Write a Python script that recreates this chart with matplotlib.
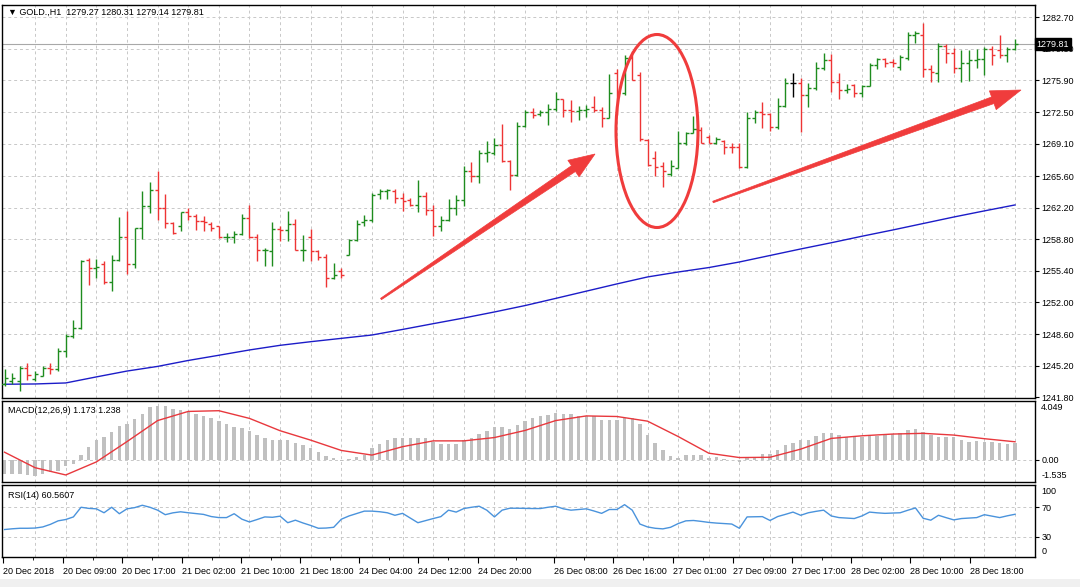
import numpy as np
import matplotlib
matplotlib.use("Agg")
import matplotlib.pyplot as plt
from matplotlib.patches import Polygon, Ellipse, Rectangle
from matplotlib.transforms import IdentityTransform, blended_transform_factory

plt.rcParams['font.family'] = ['Liberation Sans', 'DejaVu Sans']
plt.rcParams['font.size'] = 6.5

# GOLD., H1 bars (20-28 Dec 2018)
opens = [1243.2, 1243.6, 1243.5, 1245.0, 1243.8, 1244.1, 1245.0, 1244.8, 1246.8, 1248.4,
         1249.3, 1256.6, 1255.7, 1256.1, 1254.2, 1256.6, 1259.1, 1256.1, 1260.0, 1262.4,
         1264.1, 1262.2, 1260.6, 1260.2, 1261.7, 1261.3, 1260.8, 1260.4, 1260.2, 1259.0,
         1259.1, 1259.4, 1261.1, 1259.0, 1257.6, 1257.5, 1259.9, 1259.75, 1260.5, 1257.6,
         1259.0, 1257.5, 1256.9, 1254.6, 1255.4, 1257.1, 1258.7, 1260.64, 1260.86, 1263.7,
         1263.98, 1264.0, 1263.26, 1263.01, 1262.54, 1263.51, 1262.0, 1260.21, 1260.86, 1262.18,
         1263.08, 1266.13, 1265.66, 1268.1, 1268.1, 1269.0, 1267.21, 1265.77, 1270.97, 1272.48,
         1272.34, 1272.48, 1272.84, 1273.85, 1272.77, 1272.59, 1272.77, 1273.06, 1272.77, 1271.87,
         1276.7, 1274.56, 1278.3, 1276.5, 1269.54, 1267.5, 1266.74, 1265.8, 1266.49, 1269.18,
         1270.26, 1270.6, 1269.86, 1269.21, 1269.43, 1268.78, 1268.78, 1266.56, 1271.83, 1272.55,
         1272.3, 1270.86, 1273.16, 1275.67, 1275.67, 1274.34, 1275.06, 1277.21, 1278.11, 1275.78,
         1274.88, 1275.42, 1274.52, 1275.31, 1277.57, 1278.18, 1277.93, 1277.39, 1278.29, 1280.8,
         1280.8, 1277.1, 1276.67, 1279.62, 1278.83, 1277.21, 1277.82, 1278.11, 1278.18, 1279.26,
         1279.18, 1278.65, 1279.27]
highs = [1244.8, 1244.4, 1245.15, 1245.5, 1244.6, 1245.15, 1245.5, 1247.1, 1248.6, 1250.1,
         1256.6, 1256.8, 1256.7, 1256.45, 1257.1, 1261.2, 1261.8, 1260.0, 1264.0, 1265.0,
         1266.2, 1263.7, 1260.7, 1261.7, 1262.2, 1261.5, 1261.3, 1260.7, 1260.2, 1259.5,
         1259.7, 1261.5, 1262.5, 1259.4, 1257.9, 1260.65, 1260.2, 1261.8, 1261.0, 1259.3,
         1259.9, 1257.7, 1257.2, 1256.3, 1255.7, 1258.8, 1260.9, 1261.47, 1263.8, 1264.23,
         1264.23, 1264.23, 1263.8, 1263.26, 1265.23, 1263.91, 1262.54, 1261.29, 1263.15, 1263.62,
         1266.74, 1267.14, 1268.46, 1269.43, 1269.72, 1271.23, 1267.32, 1271.44, 1272.77, 1272.95,
         1272.77, 1273.41, 1274.63, 1273.92, 1273.77, 1273.13, 1273.31, 1274.2, 1273.06, 1276.54,
         1277.15, 1278.69, 1279.05, 1276.8, 1269.6, 1268.28, 1267.1, 1267.32, 1270.44, 1270.33,
         1272.12, 1270.93, 1270.03, 1269.86, 1269.5, 1269.14, 1269.21, 1272.55, 1272.73, 1273.62,
         1272.44, 1273.98, 1276.13, 1276.67, 1276.13, 1275.6, 1277.93, 1278.83, 1278.75, 1276.67,
         1275.52, 1275.52, 1275.42, 1277.75, 1278.29, 1278.29, 1278.18, 1278.65, 1281.16, 1281.27,
         1282.13, 1277.57, 1279.9, 1279.83, 1279.36, 1279.18, 1279.18, 1279.26, 1279.47, 1279.62,
         1280.8, 1279.47, 1280.31]
lows = [1243.0, 1243.2, 1242.5, 1243.7, 1243.6, 1244.05, 1244.3, 1244.6, 1246.1, 1248.2,
        1249.1, 1253.9, 1254.6, 1254.0, 1253.2, 1256.45, 1255.1, 1255.7, 1258.8, 1261.65,
        1260.9, 1260.0, 1259.4, 1259.7, 1260.9, 1259.75, 1259.7, 1259.7, 1258.95, 1258.5,
        1258.4, 1259.3, 1258.9, 1256.5, 1255.9, 1255.9, 1258.6, 1258.6, 1257.7, 1256.5,
        1256.5, 1256.6, 1253.65, 1254.5, 1254.65, 1257.1, 1258.6, 1260.21, 1260.64, 1263.15,
        1263.15, 1262.72, 1261.83, 1262.36, 1261.72, 1261.47, 1259.21, 1259.67, 1260.75, 1261.47,
        1262.36, 1264.95, 1264.88, 1267.1, 1267.92, 1267.1, 1264.16, 1265.59, 1270.87, 1271.87,
        1272.12, 1271.15, 1272.59, 1271.98, 1271.4, 1271.69, 1271.98, 1272.48, 1270.9, 1271.87,
        1272.23, 1274.28, 1276.0, 1269.4, 1266.74, 1265.59, 1264.45, 1265.59, 1266.49, 1269.0,
        1270.26, 1269.14, 1269.14, 1269.07, 1267.99, 1268.06, 1266.45, 1266.45, 1271.29, 1270.75,
        1270.5, 1270.64, 1273.08, 1274.09, 1270.39, 1273.08, 1274.88, 1277.03, 1274.7, 1273.87,
        1274.52, 1274.09, 1274.09, 1275.31, 1277.1, 1277.39, 1277.39, 1277.03, 1278.11, 1279.97,
        1276.31, 1275.78, 1275.78, 1277.75, 1276.67, 1275.78, 1275.88, 1277.21, 1276.49, 1277.57,
        1278.29, 1277.93, 1279.14]
closes = [1243.9, 1243.9, 1245.0, 1244.2, 1244.3, 1245.0, 1244.8, 1246.8, 1248.4, 1249.3,
          1256.5, 1255.7, 1255.8, 1254.2, 1256.6, 1259.1, 1256.1, 1260.0, 1262.4, 1264.1,
          1262.2, 1260.6, 1259.5, 1261.7, 1261.3, 1260.8, 1260.7, 1260.0, 1259.0, 1259.1,
          1259.4, 1261.1, 1259.0, 1257.6, 1257.7, 1259.9, 1259.75, 1260.5, 1257.7, 1257.7,
          1257.5, 1256.9, 1254.6, 1255.0, 1255.0, 1258.7, 1260.4, 1260.86, 1263.62, 1263.98,
          1264.09, 1263.26, 1262.9, 1262.54, 1263.51, 1262.0, 1260.21, 1260.86, 1262.18, 1263.08,
          1266.13, 1265.66, 1268.1, 1268.15, 1269.0, 1267.21, 1265.77, 1270.97, 1272.48, 1272.23,
          1272.48, 1272.84, 1273.85, 1272.77, 1272.59, 1272.77, 1272.84, 1272.77, 1271.87, 1274.56,
          1274.56, 1278.3, 1276.0, 1269.6, 1266.8, 1266.6, 1266.2, 1266.74, 1269.18, 1270.26,
          1270.62, 1269.21, 1269.21, 1269.57, 1268.78, 1268.7, 1266.56, 1271.83, 1272.55, 1272.3,
          1270.86, 1273.16, 1275.67, 1275.67, 1274.34, 1275.06, 1277.21, 1278.11, 1275.78, 1274.88,
          1274.95, 1274.52, 1275.31, 1277.57, 1278.18, 1277.82, 1277.75, 1278.47, 1280.8, 1280.98,
          1277.1, 1276.85, 1279.62, 1278.83, 1277.21, 1277.82, 1278.11, 1278.18, 1279.26, 1278.65,
          1278.65, 1279.26, 1279.81]

# moving average, read every 4th bar
ma_every4 = [1243.20, 1243.23, 1243.34, 1243.99, 1244.62, 1245.12, 1245.76, 1246.32, 1246.89,
             1247.39, 1247.78, 1248.14, 1248.50, 1249.10, 1249.72, 1250.33, 1250.98, 1251.67,
             1252.44, 1253.22, 1254.00, 1254.75, 1255.28, 1255.76, 1256.36, 1257.06, 1257.76,
             1258.43, 1259.13, 1259.80, 1260.50, 1261.20, 1261.86, 1262.50]

# MACD(12,26,9) main (histogram) per bar, signal every 4th bar
macd_main = [-1.0, -1.0, -1.0, -1.05, -1.1, -0.95, -0.85, -0.8, -0.45, -0.3,
             0.35, 0.89, 1.36, 1.6, 1.91, 2.30, 2.43, 2.78, 3.13, 3.65,
             3.7, 3.7, 3.5, 3.41, 3.35, 3.13, 3.0, 2.85, 2.66, 2.47,
             2.26, 2.2, 2.0, 1.73, 1.5, 1.38, 1.38, 1.38, 1.14, 1.03,
             0.84, 0.56, 0.25, 0.13, -0.12, 0.07, 0.19, 0.35, 0.82, 1.06,
             1.37, 1.48, 1.48, 1.48, 1.53, 1.48, 1.25, 1.06, 1.06, 1.06,
             1.37, 1.48, 1.77, 1.96, 2.26, 2.26, 2.14, 2.38, 2.66, 2.85,
             3.02, 3.06, 3.25, 3.18, 3.13, 3.02, 3.02, 3.02, 2.71, 2.71,
             2.71, 2.90, 2.85, 2.43, 1.72, 1.13, 0.66, 0.26, 0.12, 0.31,
             0.31, 0.31, 0.12, 0.19, 0.07, -0.05, -0.16, 0.12, 0.19, 0.42,
             0.42, 0.66, 1.01, 1.13, 1.37, 1.37, 1.67, 1.84, 1.84, 1.72,
             1.60, 1.60, 1.60, 1.67, 1.67, 1.77, 1.77, 1.84, 2.07, 2.14,
             1.91, 1.72, 1.60, 1.60, 1.60, 1.37, 1.25, 1.30, 1.25, 1.20,
             1.13, 1.06, 1.173]
macd_signal_every4 = [0.52, -0.55, -1.05, -0.15, 1.25, 2.70, 3.33, 3.38, 2.85, 2.0,
                      1.35, 0.64, 0.32, 0.90, 1.30, 1.30, 1.53, 2.02, 2.70, 3.02,
                      2.98, 2.66, 1.60, 0.45, 0.15, 0.17, 0.73, 1.47, 1.65, 1.77,
                      1.82, 1.70, 1.45, 1.238]

# RSI(14) per bar
rsi = [40.0, 41.0, 41.7, 41.7, 42.0, 43.5, 47.0, 51.7, 53.5, 57.0,
       70.0, 68.5, 67.9, 62.6, 70.0, 61.3, 67.9, 69.5, 72.7, 70.0,
       66.1, 60.0, 62.5, 63.9, 62.6, 61.5, 60.4, 57.5, 56.1, 56.1,
       61.3, 54.0, 50.2, 53.5, 57.0, 56.5, 58.0, 49.2, 52.6, 48.8,
       45.5, 41.7, 42.0, 43.0, 53.9, 58.3, 61.5, 64.8, 64.8, 64.0,
       62.6, 59.2, 61.8, 55.5, 49.2, 52.0, 54.8, 57.4, 66.1, 63.5,
       68.3, 70.0, 71.4, 66.1, 57.0, 66.1, 68.7, 68.7, 68.5, 68.3,
       68.3, 70.0, 71.4, 67.9, 66.1, 67.0, 67.9, 65.0, 61.8, 67.0,
       67.0, 73.5, 66.1, 47.4, 43.5, 41.7, 40.9, 43.0, 48.0, 51.7,
       52.2, 51.0, 49.6, 48.7, 48.0, 47.4, 41.7, 57.0, 57.2, 57.4,
       52.2, 57.5, 60.4, 63.5, 59.2, 62.6, 64.5, 66.1, 58.3, 56.1,
       55.5, 54.8, 58.3, 63.5, 62.5, 61.8, 62.2, 62.6, 66.0, 69.1,
       55.2, 52.6, 59.2, 56.0, 53.0, 54.8, 55.5, 56.1, 60.0, 58.0,
       56.1, 58.5, 60.56]

price_labels = ['1241.80', '1245.20', '1248.60', '1252.00', '1255.40', '1258.80', '1262.20',
                '1265.60', '1269.10', '1272.50', '1275.90', '1279.30', '1282.70']
time_labels = ['20 Dec 2018', '20 Dec 09:00', '20 Dec 17:00', '21 Dec 02:00', '21 Dec 10:00',
               '21 Dec 18:00', '24 Dec 04:00', '24 Dec 12:00', '24 Dec 20:00', '26 Dec 08:00',
               '26 Dec 16:00', '27 Dec 01:00', '27 Dec 09:00', '27 Dec 17:00', '28 Dec 02:00',
               '28 Dec 10:00', '28 Dec 18:00']
time_label_px = [3, 63, 122, 182, 241, 300, 359, 418, 478, 554, 613, 673, 733, 792, 851, 910, 970]
last_price = 1279.81

GREEN = '#1e8c1e'
RED = '#ee3434'
GRID = '#c8c8c8'
ANNOT = '#f03c3c'

W, H = 1080, 587
N = len(closes)
x = np.arange(N)
DX = (1015 - 4.5) / (N - 1)      # pixels per bar


def px2i(px):
    return (px - 4.5) / DX


fig = plt.figure(figsize=(W / 100, H / 100), dpi=100)
fig.patch.set_facecolor('white')
fig.add_artist(Rectangle((0, 0), W, H - 579, transform=IdentityTransform(),
                         fc='#f0f0f0', ec='none', zorder=-5))


def add_ax(top, bottom):
    a = fig.add_axes([2 / W, 1 - bottom / H, (1035 - 2) / W, (bottom - top) / H])
    a.set_xlim(px2i(2), px2i(1035))
    a.yaxis.tick_right()
    a.tick_params(axis='y', direction='out', length=3, width=0.8, pad=1.5,
                  labelsize=6.5, colors='black')
    a.set_xticks([])
    for s in a.spines.values():
        s.set_color('black')
        s.set_linewidth(1.0)
    for g in range(4, N, 4):
        a.axvline(g, color=GRID, lw=0.7, ls=(0, (3, 3)), zorder=0)
    return a


ax = add_ax(5, 398)
axm = add_ax(401, 482)
axr = add_ax(485, 557)

# --- price panel
ax.set_ylim(1241.72, 1284.02)
pvals = [float(p) for p in price_labels]
ax.set_yticks(pvals)
ax.set_yticklabels(price_labels)
for p in pvals[1:]:
    ax.axhline(p, color=GRID, lw=0.7, ls=(0, (3, 3)), zorder=0)

o = np.array(opens)
c = np.array(closes)
cols = np.where(c > o, GREEN, np.where(c < o, RED, 'black'))
ax.vlines(x, lows, highs, colors=cols, lw=1.0, zorder=3)
ax.hlines(opens, x - 0.4, x, colors=cols, lw=1.0, zorder=3)
ax.hlines(closes, x, x + 0.4, colors=cols, lw=1.0, zorder=3)

ax.plot(x[::4], ma_every4, color='#1c1cc8', lw=1.0, zorder=2)
ax.axhline(last_price, color='#a8a8a8', lw=0.8, zorder=1)
tr = blended_transform_factory(ax.transAxes, ax.transData)
ax.text(1.0015, last_price, '%.2f' % last_price, transform=tr, color='white',
        fontsize=6.5, va='center', ha='left',
        bbox=dict(boxstyle='square,pad=0.2', fc='black', ec='black'), zorder=6)

fig.text(8 / W, 1 - 12 / H, '\u25bc GOLD.,H1  %.2f %.2f %.2f %.2f'
         % (opens[-1], highs[-1], lows[-1], closes[-1]),
         fontsize=6.5, va='center', ha='left')

# --- MACD panel
axm.set_ylim(-1.535, 4.049)
axm.set_yticks([0.0])
axm.set_yticklabels(['0.00'])
axm.axhline(0, color=GRID, lw=0.7, ls=(0, (3, 3)), zorder=0)
axm.bar(x, macd_main, width=0.45, color='#c0c0c0', zorder=2)
axm.plot(x[::4], macd_signal_every4, color='#e8383d', lw=1.0, zorder=3)
axm.text(1.006, 0.98, '4.049', transform=axm.transAxes, va='top', ha='left', fontsize=6.5)
axm.text(1.006, 0.02, '-1.535', transform=axm.transAxes, va='bottom', ha='left', fontsize=6.5)
axm.text(0.006, 0.88, 'MACD(12,26,9) %.3f %.3f' % (macd_main[-1], macd_signal_every4[-1]),
         transform=axm.transAxes, va='center', ha='left', fontsize=6.5)

# --- RSI panel
axr.set_ylim(3, 100)
axr.set_yticks([70, 30])
axr.set_yticklabels(['70', '30'])
for lv in (70, 30):
    axr.axhline(lv, color=GRID, lw=0.7, ls=(0, (3, 3)), zorder=0)
axr.plot(x, rsi, color='#4a93dc', lw=1.0, zorder=3)
axr.text(1.006, 0.97, '100', transform=axr.transAxes, va='top', ha='left', fontsize=6.5)
axr.text(1.006, 0.01, '0', transform=axr.transAxes, va='bottom', ha='left', fontsize=6.5)
axr.text(0.006, 0.86, 'RSI(14) %.4f' % 60.5607, transform=axr.transAxes,
         va='center', ha='left', fontsize=6.5)

tick_pos = [px2i(p) for p in time_label_px]
axr.set_xticks(tick_pos)
axr.set_xticklabels(time_labels, ha='left')
axr.tick_params(axis='x', direction='out', length=4, width=0.8, pad=3, labelsize=6.5)
axr.set_xticks([(a + b) / 2 for a, b in zip(tick_pos[:-1], tick_pos[1:])], minor=True)
axr.tick_params(axis='x', which='minor', length=2, width=0.6)


# --- hand-drawn annotations (pixel coordinates of the screenshot)
def fat_arrow(tail, tip, head_len, head_hw, neck_hw, tail_hw):
    t = np.array(tail, float)
    p = np.array(tip, float)
    u = (p - t) / np.hypot(*(p - t))
    n = np.array([-u[1], u[0]])
    b = p - u * head_len
    pts = [t + n * tail_hw, b + n * neck_hw, b + n * head_hw, p,
           b - n * head_hw, b - n * neck_hw, t - n * tail_hw]
    pts = [(q[0], H - q[1]) for q in pts]
    fig.add_artist(Polygon(pts, closed=True, fc=ANNOT, ec=ANNOT, lw=0.5,
                           transform=IdentityTransform(), zorder=10))


fat_arrow((381, 299), (595, 154), 26, 10, 3.5, 0.8)
fat_arrow((713, 202), (1021, 90), 30, 10, 3.5, 0.8)
fig.add_artist(Ellipse((657, H - 131), 82, 193, fill=False, ec=ANNOT, lw=2.2,
                       transform=IdentityTransform(), zorder=10))

fig.savefig('out.png', dpi=100)
